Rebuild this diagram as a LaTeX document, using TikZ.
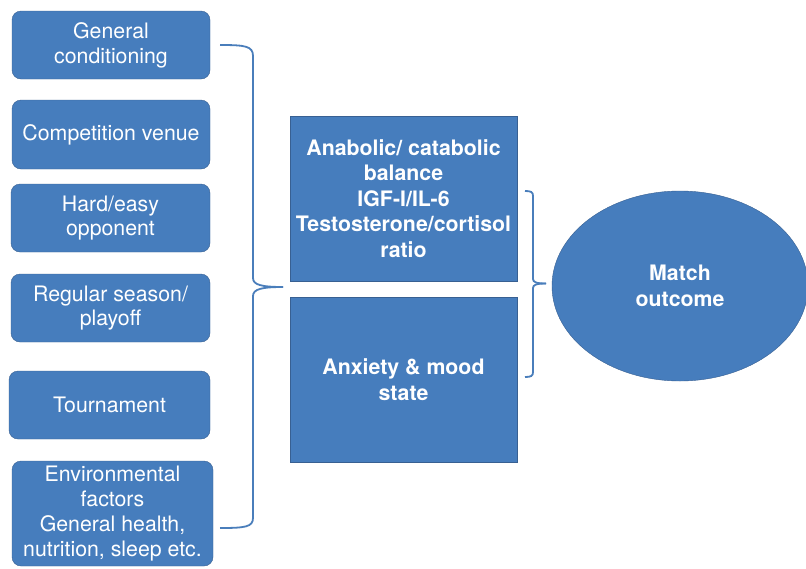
\documentclass[tikz,border=0pt]{standalone}
\usepackage{fontspec}
\setmainfont{TeX Gyre Heros}
\usetikzlibrary{shapes.geometric}

\definecolor{boxblue}{RGB}{70,125,189}
\definecolor{edgeblue}{RGB}{56,96,146}
\definecolor{braceblue}{RGB}{74,126,187}

\tikzset{
  factorbox/.style={draw=edgeblue, fill=boxblue, text=white, rounded corners=9pt,
                    align=center, inner sep=1pt, minimum width=198pt,
                    font=\fontsize{21.3}{24.8}\selectfont},
  mainbox/.style={draw=edgeblue, fill=boxblue, text=white, align=center,
                  inner sep=1pt, minimum width=227pt, minimum height=165pt,
                  font=\fontsize{21.3}{25.5}\selectfont\bfseries},
  brace/.style={braceblue, line width=1.8pt}
}

\begin{document}
\begin{tikzpicture}[x=1pt, y=-1pt]

\useasboundingbox (0, 0) rectangle (806, 568);

% draw the factor boxes
\node[factorbox, minimum height=68pt] (cond) at (111, 45) {General\\conditioning};
\node[factorbox, minimum height=69pt] (venue) at (111, 134.5) {Competition venue};
\node[factorbox, minimum height=68pt, minimum width=199pt] (opp) at (110.5, 218) {Hard/easy\\opponent};
\node[factorbox, minimum height=68pt, minimum width=199pt] (season) at (110.5, 308) {Regular season/\\playoff};
\node[factorbox, minimum height=68pt, minimum width=201pt] (tourn) at (109.5, 405) {Tournament};
\node[factorbox, minimum height=105pt, minimum width=201pt] (env) at (112.5, 513.5)
     {Environmental\\factors\\General health,\\nutrition, sleep etc.};

% draw the middle boxes
\node[mainbox] (hormone) at (403.5, 198.5)
     {Anabolic/ catabolic\\balance\\IGF-I/IL-6\\Testosterone/cortisol\\ratio};
\node[mainbox] (mood) at (403.5, 379.5) {Anxiety \& mood\\state};

% draw the outcome
\node[ellipse, draw=edgeblue, fill=boxblue, text=white, align=center,
      minimum width=256pt, minimum height=190pt,
      font=\fontsize{21.3}{25.5}\selectfont\bfseries] (outcome) at (680, 286) {Match\\outcome};

% draw the left brace
\coordinate (lbtop) at (220, 45);
\coordinate (lbtip) at (283, 287);
\coordinate (lbbot) at (220, 528);
\draw[brace] (lbtop) .. controls (245, 45) and (253, 46) .. (253, 56) -- (253, 278)
             .. controls (253, 285) and (262, 287) .. (lbtip);
\draw[brace] (lbtip) .. controls (262, 287) and (253, 289) .. (253, 296) -- (253, 518)
             .. controls (253, 527) and (245, 528) .. (lbbot);

% draw the right brace
\coordinate (rbtop) at (525, 191);
\coordinate (rbtip) at (546, 283.5);
\coordinate (rbbot) at (525, 377);
\draw[brace] (rbtop) .. controls (531, 191) and (533, 192) .. (533, 196) -- (533, 279)
             .. controls (533, 282) and (536, 283.5) .. (rbtip);
\draw[brace] (rbtip) .. controls (536, 283.5) and (533, 285) .. (533, 288) -- (533, 372)
             .. controls (533, 376) and (531, 377) .. (rbbot);

\end{tikzpicture}
\end{document}
